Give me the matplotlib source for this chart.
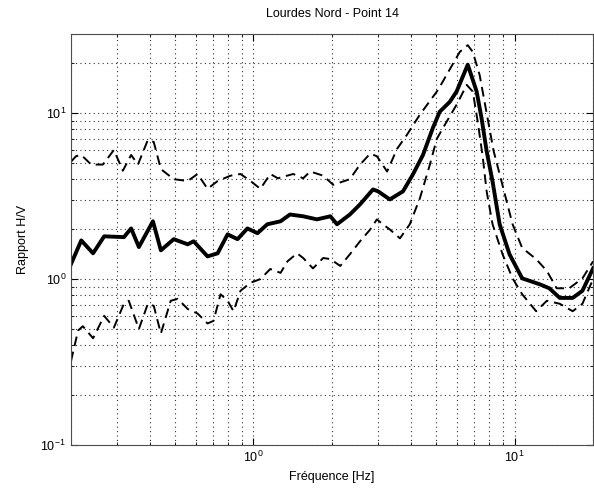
import numpy as np
import matplotlib
matplotlib.use('Agg')
import matplotlib.pyplot as plt

plt.rcParams['font.family'] = ['Liberation Sans', 'DejaVu Sans']

# H/V ratio - mean curve
freq_mean = [0.2, 0.219, 0.243, 0.268, 0.319, 0.340, 0.364, 0.412, 0.442, 0.495,
             0.560, 0.590, 0.667, 0.729, 0.796, 0.869, 0.948, 1.036, 1.13, 1.27,
             1.38, 1.55, 1.75, 1.97, 2.09, 2.34, 2.56, 2.87, 3.0, 3.33,
             3.74, 4.08, 4.46, 4.86, 5.17, 5.65, 6.0, 6.62, 7.16, 7.48,
             7.82, 8.24, 8.77, 9.57, 10.7, 12.5, 13.6, 14.9, 16.7, 18.2, 20.0]
hv_mean = [1.23, 1.71, 1.43, 1.81, 1.79, 2.02, 1.56, 2.23, 1.49, 1.74,
           1.62, 1.69, 1.37, 1.43, 1.86, 1.74, 2.02, 1.89, 2.14, 2.23,
           2.45, 2.39, 2.29, 2.39, 2.14, 2.45, 2.82, 3.47, 3.38, 3.02,
           3.38, 4.27, 5.6, 8.1, 10.2, 11.7, 13.5, 19.6, 13.5, 9.3,
           5.9, 3.87, 2.14, 1.41, 1.01, 0.93, 0.88, 0.77, 0.77, 0.85, 1.16]

# mean + std
freq_up = [0.2, 0.209, 0.219, 0.239, 0.265, 0.292, 0.316, 0.340, 0.361, 0.394,
           0.415, 0.442, 0.495, 0.560, 0.611, 0.667, 0.729, 0.817, 0.892, 0.974,
           1.063, 1.16, 1.24, 1.42, 1.55, 1.65, 1.85, 2.02, 2.34, 2.56,
           2.80, 2.97, 3.25, 3.55, 3.87, 4.34, 5.04, 5.17, 6.17, 6.62,
           6.92, 7.35, 7.82, 8.32, 8.92, 9.83, 10.7, 12.1, 13.3, 14.5,
           16.2, 18.2, 20.0]
hv_up = [5.1, 5.5, 5.6, 4.9, 4.9, 6.0, 4.5, 5.6, 4.9, 6.9,
         6.7, 4.6, 4.0, 3.9, 4.3, 3.5, 3.9, 4.2, 4.3, 3.9,
         3.5, 4.3, 4.05, 4.3, 4.05, 4.45, 4.2, 3.7, 4.0, 4.9,
         5.7, 5.5, 4.45, 6.1, 7.4, 9.8, 13.5, 14.4, 23.4, 25.7,
         23.4, 17.0, 10.0, 5.9, 3.87, 2.14, 1.54, 1.32, 1.12, 0.88,
         0.88, 1.01, 1.28]

# mean - std
freq_low = [0.2, 0.213, 0.222, 0.243, 0.268, 0.292, 0.319, 0.333, 0.364, 0.394,
            0.415, 0.442, 0.482, 0.513, 0.560, 0.611, 0.667, 0.703, 0.748, 0.796,
            0.839, 0.892, 0.974, 1.063, 1.16, 1.27, 1.35, 1.47, 1.55, 1.69,
            1.85, 1.97, 2.15, 2.34, 2.56, 2.80, 2.97, 3.13, 3.33, 3.64,
            3.97, 4.34, 4.74, 5.04, 5.31, 6.01, 6.56, 6.92, 7.22, 7.55,
            7.82, 8.24, 9.0, 9.83, 10.7, 12.1, 13.3, 14.9, 16.7, 18.2,
            19.3, 20.0]
hv_low = [0.32, 0.49, 0.52, 0.44, 0.60, 0.51, 0.71, 0.74, 0.50, 0.71,
          0.69, 0.47, 0.74, 0.76, 0.66, 0.62, 0.54, 0.56, 0.81, 0.74,
          0.64, 0.85, 0.95, 1.0, 1.15, 1.09, 1.28, 1.43, 1.34, 1.16,
          1.34, 1.32, 1.2, 1.41, 1.69, 1.99, 2.29, 2.14, 1.99, 1.76,
          2.14, 3.07, 4.9, 7.0, 8.1, 11.3, 14.8, 13.5, 9.0, 5.5,
          3.38, 2.14, 1.41, 1.01, 0.81, 0.64, 0.74, 0.71, 0.64, 0.71,
          0.88, 1.0]

fig = plt.figure(figsize=(5.94, 5.0), dpi=100)
ax = fig.add_axes([0.1195, 0.11, 0.879, 0.822])

ax.loglog(freq_up, hv_up, 'k--', lw=1.4, dashes=(5, 3))
ax.loglog(freq_low, hv_low, 'k--', lw=1.4, dashes=(5, 3))
ax.loglog(freq_mean, hv_mean, 'k-', lw=2.8)

ax.set_xlim(0.2, 20)
ax.set_ylim(0.1, 30)
ax.grid(True, which='both', linestyle=(0, (1, 3)), color='0.2', lw=0.8)
ax.tick_params(which='both', direction='in', top=True, right=True, labelsize=9)
ax.tick_params(which='major', length=5)
ax.tick_params(which='minor', length=2.5)
for s in ax.spines.values():
    s.set_linewidth(0.8)
    s.set_color('0.3')

ax.set_title('Lourdes Nord - Point 14', fontsize=9, pad=12)
ax.set_xlabel('Fréquence [Hz]', fontsize=9)
ax.set_ylabel('Rapport H/V', fontsize=9, labelpad=8)

plt.savefig('out.png', dpi=100)
